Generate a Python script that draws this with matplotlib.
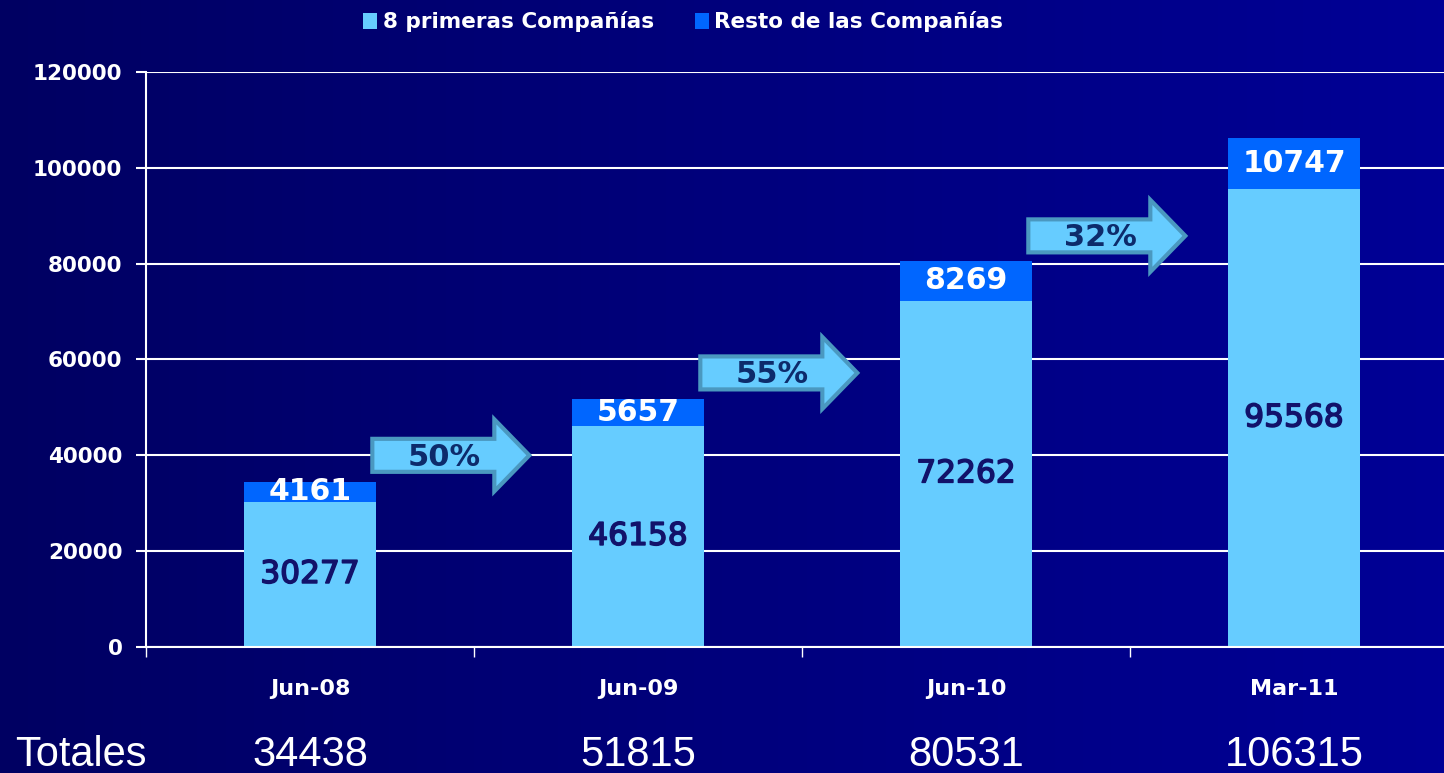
import numpy as np
import matplotlib
matplotlib.use("Agg")
import matplotlib.pyplot as plt
from matplotlib import transforms
from matplotlib.patches import Polygon
from matplotlib.colors import LinearSegmentedColormap
import matplotlib.patheffects as pe

# ---- data ----
categories = ["Jun-08", "Jun-09", "Jun-10", "Mar-11"]
top8 = [30277, 46158, 72262, 95568]
rest = [4161, 5657, 8269, 10747]
series_names = ["8 primeras Compañías", "Resto de las Compañías"]
yticks = [0, 20000, 40000, 60000, 80000, 100000, 120000]
totals_label = "Totales"

# ---- style ----
C_LIGHT = "#66ccff"
C_DARK = "#0066ff"
C_NAVY = "#12126a"
C_ARROW_EDGE = "#4a98c0"
C_ARROW_TEXT = "#0d2b6b"
arrow_y = [40000, 57200, 85800]   # vertical placement of growth arrows
arrow_x_off = 0.19                 # tail offset from bar centre

totals = [a + b for a, b in zip(top8, rest)]
growth = ["{:.0f}%".format((totals[i + 1] / totals[i] - 1) * 100) for i in range(len(totals) - 1)]

W, H, DPI = 1444, 773, 100
fig = plt.figure(figsize=(W / DPI, H / DPI), dpi=DPI)

# background gradient
bg = fig.add_axes([0, 0, 1, 1], zorder=-10)
cmap = LinearSegmentedColormap.from_list("bg", ["#000062", "#000096"])
grad = np.linspace(0, 1, 256).reshape(1, -1)
bg.imshow(grad, aspect="auto", cmap=cmap, extent=[0, 1, 0, 1])
bg.set_axis_off()

ax = fig.add_axes([146 / W, 126 / H, 1312 / W, 575 / H])
ax.set_facecolor("none")
x = np.arange(len(categories))
bw = 0.405
b1 = ax.bar(x, top8, width=bw, color=C_LIGHT, zorder=3, label=series_names[0])
b2 = ax.bar(x, rest, width=bw, bottom=top8, color=C_DARK, zorder=3, label=series_names[1])

ax.set_xlim(-0.5, 3.5)
ax.set_ylim(0, 120000)
ax.set_yticks(yticks)
ax.set_yticklabels([str(v) for v in yticks], color="white", fontsize=15.5,
                   fontweight="bold", family="DejaVu Sans")
ax.tick_params(axis="y", length=7, width=1.5, color="white", pad=10, direction="out")
ax.grid(axis="y", color="white", lw=1.5, zorder=1)
ax.set_axisbelow(True)

ax.set_xticks(x - 0.5)
ax.set_xticklabels([])
ax.tick_params(axis="x", which="major", length=7, width=1, color="white", direction="out")
ax.set_xticks(x, minor=True)
ax.set_xticklabels(categories, minor=True, color="white", fontsize=16,
                   fontweight="bold", family="DejaVu Sans")
ax.tick_params(axis="x", which="minor", length=0, pad=23)

for s in ["top", "right"]:
    ax.spines[s].set_visible(False)
for s in ["left", "bottom"]:
    ax.spines[s].set_color("white")
    ax.spines[s].set_linewidth(1.5)
ax.spines["bottom"].set_zorder(4)

# bar labels
for i in range(len(x)):
    ax.text(x[i], top8[i] / 2, str(top8[i]), ha="center", va="center",
            color=C_NAVY, fontsize=22.5, family="DejaVu Sans", zorder=5,
            path_effects=[pe.withStroke(linewidth=1.1, foreground=C_NAVY)])
    ax.text(x[i], top8[i] + rest[i] / 2, str(rest[i]), ha="center", va="center",
            color="white", fontsize=21.5, fontweight="bold", family="DejaVu Sans", zorder=5)

# growth arrows (shape in pixels, anchored in data coords)
L_body, L_head, h_body, h_head = 122, 35, 16.5, 36
shape_px = np.array([
    (0, -h_body), (L_body, -h_body), (L_body, -h_head), (L_body + L_head, 0),
    (L_body, h_head), (L_body, h_body), (0, h_body)
]) / DPI
for i, g in enumerate(growth):
    xd = x[i] + arrow_x_off
    yd = arrow_y[i]
    tr = fig.dpi_scale_trans + transforms.ScaledTranslation(xd, yd, ax.transData)
    poly = Polygon(shape_px, closed=True, facecolor=C_LIGHT, edgecolor=C_ARROW_EDGE,
                   lw=3, transform=tr, zorder=6, joinstyle="miter")
    ax.add_patch(poly)
    ax.annotate(g, xy=(xd, yd), xycoords="data", xytext=(72, -2),
                textcoords="offset pixels", ha="center", va="center",
                color=C_ARROW_TEXT, fontsize=22, fontweight="bold",
                family="DejaVu Sans", zorder=7)

# totals row
tr_tot = transforms.blended_transform_factory(ax.transData, fig.transFigure)
ytot = 1 - 755 / H
fig.text(15 / W, ytot, totals_label, ha="left", va="center", color="white",
         fontsize=30, family="Liberation Sans")
for i, t in enumerate(totals):
    ax.text(x[i], ytot, str(t), transform=tr_tot, ha="center", va="center",
            color="white", fontsize=30, family="Liberation Sans", clip_on=False)

# legend
leg = fig.legend(handles=[b1, b2], labels=series_names, loc="center",
                 bbox_to_anchor=(683 / W, 1 - 22 / H), ncol=2, frameon=False,
                 prop={"family": "DejaVu Sans", "weight": "bold", "size": 15.5},
                 handlelength=0.65, handleheight=0.75, handletextpad=0.25,
                 columnspacing=1.9, labelcolor="white")

fig.savefig("out.png", dpi=DPI)
